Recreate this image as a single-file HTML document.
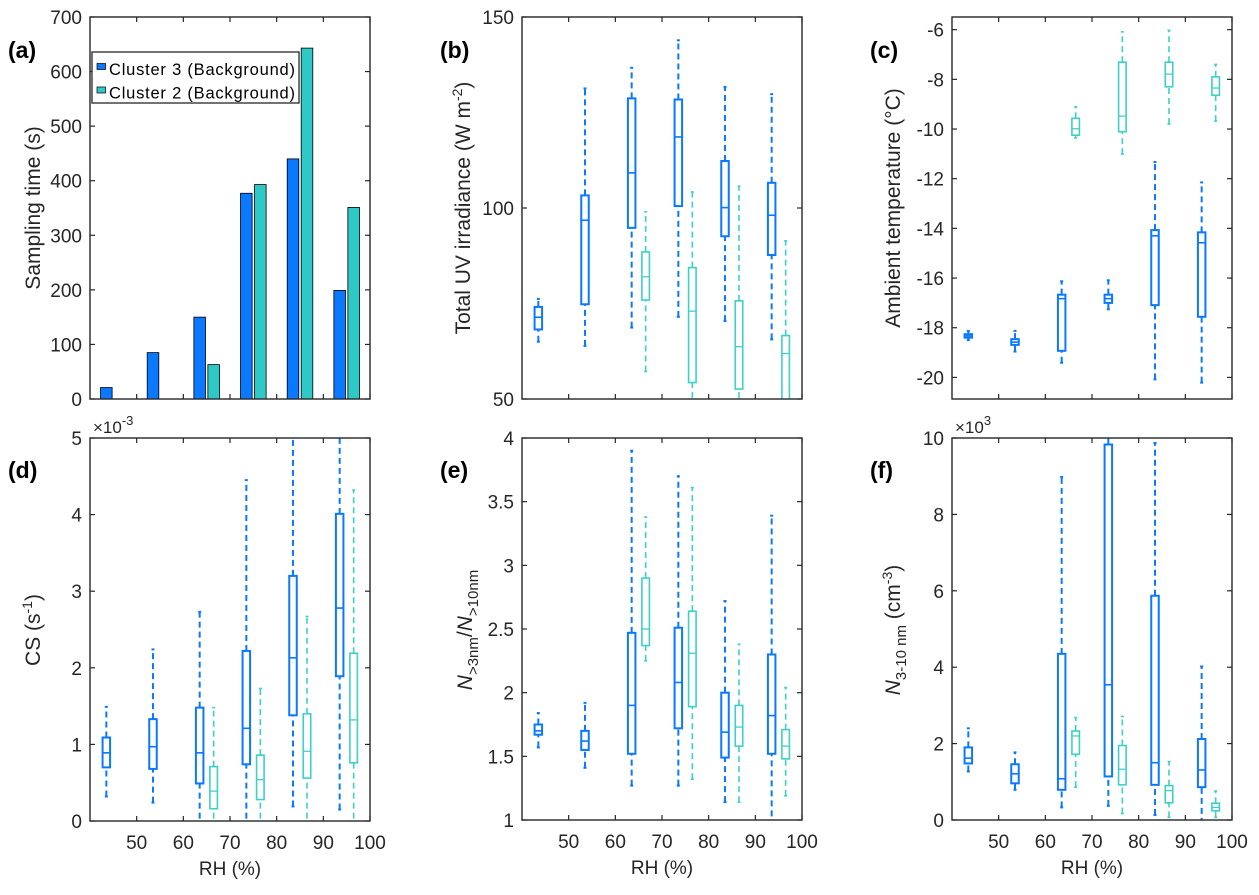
<!DOCTYPE html>
<html><head><meta charset="utf-8"><style>
html,body{margin:0;padding:0;background:#fff;}
svg{display:block;font-family:"Liberation Sans",Arial,sans-serif;}
</style></head><body>
<svg id="fig" width="1259" height="895" viewBox="0 0 1259 895" xmlns="http://www.w3.org/2000/svg"></svg>
<script>
// ---------- data ----------
const rhBlue = [43.5, 53.5, 63.5, 73.5, 83.5, 93.5];
const rhTeal = [66.5, 76.5, 86.5, 96.5];
const rhTealBars = [46.5, 56.5, 66.5, 76.5, 86.5, 96.5];
const timeBlue = [21, 85, 150, 377, 440, 199];
const timeTeal = [0, 0, 63, 393, 643, 351];
// box stats: [lo, q1, med, q3, hi]
const uvBlue = [[65,68.2,71.4,74.1,76.2],[63.9,74.8,96.8,103.3,131.3],[68.7,94.8,109.2,128.7,136.7],[71.5,100.5,118.6,128.4,143.9],[70.4,92.6,100.1,112.3,131.7],[65.6,87.7,98.1,106.6,129.8]];
const uvTeal = [[57.2,75.9,82,88.5,99],[45,54.3,73,84.4,104.2],[45,52.6,63.7,75.7,105.7],[40,45,61.9,66.6,91.4]];
const tBlue = [[-18.5,-18.4,-18.33,-18.26,-18.13],[-18.96,-18.69,-18.58,-18.46,-18.13],[-19.41,-18.93,-16.83,-16.67,-16.13],[-17.26,-17.0,-16.83,-16.67,-16.09],[-20.08,-17.09,-14.3,-14.07,-11.33],[-20.21,-17.56,-14.58,-14.16,-12.15]];
const tTeal = [[-10.36,-10.25,-9.99,-9.57,-9.11],[-11.01,-10.11,-9.48,-7.31,-6.09],[-9.8,-8.3,-7.79,-7.31,-6.03],[-9.68,-8.64,-8.35,-7.9,-7.4]];
const csBlue = [[0.32,0.70,0.89,1.09,1.49],[0.24,0.68,0.97,1.33,2.24],[-0.1,0.49,0.89,1.48,2.73],[-0.1,0.74,1.21,2.22,4.45],[0.19,1.38,2.13,3.2,5.5],[0.15,1.89,2.78,4.01,5.5]];
const csTeal = [[-0.1,0.16,0.39,0.71,1.48],[-0.1,0.28,0.54,0.86,1.73],[-0.1,0.56,0.91,1.4,2.67],[-0.1,0.76,1.32,2.19,4.32]];
const ratioBlue = [[1.57,1.67,1.70,1.75,1.84],[1.41,1.55,1.62,1.70,1.92],[1.27,1.52,1.90,2.47,3.90],[1.27,1.72,2.08,2.51,3.70],[1.14,1.49,1.69,2.0,2.72],[0.95,1.52,1.82,2.30,3.39]];
const ratioTeal = [[2.25,2.37,2.50,2.90,3.38],[1.32,1.89,2.31,2.64,3.61],[1.14,1.58,1.73,1.90,2.38],[1.19,1.48,1.58,1.71,2.04]];
const nBlue = [[1.27,1.48,1.62,1.90,2.40],[0.79,0.96,1.21,1.46,1.77],[0.33,0.79,1.08,4.35,8.98],[0.37,1.14,3.54,9.83,10.3],[0.13,0.92,1.50,5.87,9.87],[-0.1,0.86,1.31,2.12,4.02]];
const nTeal = [[0.86,1.72,2.20,2.33,2.68],[0.17,0.92,1.33,1.95,2.71],[0.07,0.45,0.77,0.90,1.53],[0.07,0.24,0.33,0.44,0.76]];
const ticksA = [0,100,200,300,400,500,600,700];
const ticksB = [50,100,150];
const ticksC = [-6,-8,-10,-12,-14,-16,-18,-20];
const ticksD = [0,1,2,3,4,5];
const ticksE = [1,1.5,2,2.5,3,3.5,4];
const ticksF = [0,2,4,6,8,10];
const ticksX = [50,60,70,80,90,100];

// ---------- drawing ----------
const NS="http://www.w3.org/2000/svg";
const svg=document.getElementById('fig');
const BLUE="#0a78ff", TEAL_BAR="#2ec9c6", TEAL="#3dd0c8", AX="#262626";
const FS=19;
function el(tag,attrs,parent){const e=document.createElementNS(NS,tag);for(const k in attrs)e.setAttribute(k,attrs[k]);(parent||svg).appendChild(e);return e;}
let clipId=0;
function makePanel(p){
  const g=el('g',{});
  
  
  const sx=v=>p.x0+(v-40)/60*(p.x1-p.x0);
  const sy=v=>p.y1-(v-p.ymin)/(p.ymax-p.ymin)*(p.y1-p.y0);
  const cid='clip'+(clipId++);
  const cp=el('clipPath',{id:cid},g);el('rect',{x:p.x0,y:p.y0,width:p.x1-p.x0,height:p.y1-p.y0},cp);
  const marks=el('g',{'clip-path':'url(#'+cid+')'},g);
  
  
  return {g,sx,sy,marks};
}
function axes(p,P,yticks,showX){
  const g=P.g;
  const frame=el('rect',{x:p.x0,y:p.y0,width:p.x1-p.x0,height:p.y1-p.y0,fill:'none',stroke:AX,'stroke-width':1.4},g);
  
  
  ticksX.forEach(v=>{const x=P.sx(v);
    el('line',{x1:x,x2:x,y1:p.y1,y2:p.y1-5,stroke:AX,'stroke-width':1.2},g);
    el('line',{x1:x,x2:x,y1:p.y0,y2:p.y0+5,stroke:AX,'stroke-width':1.2},g);
    if(showX){const t=el('text',{x:x,y:p.y1+28,'text-anchor':'middle','font-size':FS,fill:AX},g);t.textContent=v;
      
      }
  });
  yticks.forEach(v=>{const y=P.sy(v);
    el('line',{x1:p.x0,x2:p.x0+5,y1:y,y2:y,stroke:AX,'stroke-width':1.2},g);
    el('line',{x1:p.x1,x2:p.x1-5,y1:y,y2:y,stroke:AX,'stroke-width':1.2},g);
    const t=el('text',{x:p.x0-8,y:y+7,'text-anchor':'end','font-size':FS,fill:AX},g);t.textContent=v;
    
    
  });
  if(showX){const t=el('text',{x:(p.x0+p.x1)/2,y:p.y1+54,'text-anchor':'middle','font-size':FS,fill:AX},g);t.textContent='RH (%)';
    
    }
}
function panelLabel(txt,x,y){const t=el('text',{x:x,y:y,'font-size':23,'font-weight':'bold',fill:'#000'});t.textContent=txt;
  
  }
function yTitle(html,x,y){const t=el('text',{x:0,y:0,'text-anchor':'middle','font-size':21,fill:AX,transform:`translate(${x},${y}) rotate(-90)`});t.innerHTML=html;
  
  }
function boxes(P,xs,stats,color,lw,nm){
  xs.forEach((xv,i)=>{const s=stats[i];const x=P.sx(xv);const w=7.5;
    const g=el('g',{},P.marks);
    
    
    const y=s.map(P.sy);
    el('line',{x1:x,x2:x,y1:y[0],y2:y[1],stroke:color,'stroke-width':lw,'stroke-dasharray':'6,4'},g);
    el('line',{x1:x,x2:x,y1:y[3],y2:y[4],stroke:color,'stroke-width':lw,'stroke-dasharray':'6,4'},g);
    el('line',{x1:x-1.5,x2:x+1.5,y1:y[0],y2:y[0],stroke:color,'stroke-width':lw},g);
    el('line',{x1:x-1.5,x2:x+1.5,y1:y[4],y2:y[4],stroke:color,'stroke-width':lw},g);
    el('rect',{x:x-w/2,y:y[3],width:w,height:Math.max(0.5,y[1]-y[3]),fill:'none',stroke:color,'stroke-width':lw},g);
    el('line',{x1:x-w/2,x2:x+w/2,y1:y[2],y2:y[2],stroke:color,'stroke-width':lw*0.8},g);
  });
}
const pA={name:'panel-a-sampling-time',x0:90,x1:370,y0:17,y1:399,ymin:0,ymax:700};
const pB={name:'panel-b-uv',x0:522,x1:802,y0:17,y1:399,ymin:50,ymax:150};
const pC={name:'panel-c-temperature',x0:952,x1:1232,y0:17,y1:399,ymin:-20.87,ymax:-5.49};
const pD={name:'panel-d-cs',x0:90,x1:370,y0:438,y1:821,ymin:0,ymax:5};
const pE={name:'panel-e-ratio',x0:522,x1:802,y0:438,y1:820,ymin:1,ymax:4};
const pF={name:'panel-f-n3-10',x0:952,x1:1232,y0:438,y1:820,ymin:0,ymax:10};

// (a) bars
const A=makePanel(pA);
rhBlue.forEach((v,i)=>{const x=A.sx(v),y=A.sy(timeBlue[i]);const r=el('rect',{x:x-5.8,y:y,width:11.6,height:pA.y1-y,fill:BLUE,stroke:'#000','stroke-width':0.8},A.marks);
  
  });
rhTealBars.forEach((v,i)=>{if(!timeTeal[i])return;const x=A.sx(v),y=A.sy(timeTeal[i]);const r=el('rect',{x:x-5.8,y:y,width:11.6,height:pA.y1-y,fill:TEAL_BAR,stroke:'#000','stroke-width':0.8},A.marks);
  
  });
axes(pA,A,ticksA,false);
// legend
const lg=el('g',{});


el('rect',{x:92,y:52,width:207,height:51,fill:'#fff',stroke:AX,'stroke-width':1.3},lg);
el('rect',{x:97,y:63.5,width:8.5,height:6,fill:BLUE,stroke:'#000','stroke-width':0.7},lg);
el('rect',{x:97,y:87,width:8.5,height:6,fill:TEAL_BAR,stroke:'#000','stroke-width':0.7},lg);
const l1=el('text',{x:109,y:75,'font-size':16.5,fill:'#000',textLength:186},lg);l1.textContent='Cluster 3 (Background)';


const l2=el('text',{x:109,y:98.5,'font-size':16.5,fill:'#000',textLength:186},lg);l2.textContent='Cluster 2 (Background)';



const B=makePanel(pB);boxes(B,rhBlue,uvBlue,BLUE,2,'uv-cluster3');boxes(B,rhTeal,uvTeal,TEAL,1.6,'uv-cluster2');axes(pB,B,ticksB,false);
const C=makePanel(pC);boxes(C,rhBlue,tBlue,BLUE,2,'temp-cluster3');boxes(C,rhTeal,tTeal,TEAL,1.6,'temp-cluster2');axes(pC,C,ticksC,false);
const D=makePanel(pD);boxes(D,rhBlue,csBlue,BLUE,2,'cs-cluster3');boxes(D,rhTeal,csTeal,TEAL,1.6,'cs-cluster2');axes(pD,D,ticksD,true);
const E=makePanel(pE);boxes(E,rhBlue,ratioBlue,BLUE,2,'ratio-cluster3');boxes(E,rhTeal,ratioTeal,TEAL,1.6,'ratio-cluster2');axes(pE,E,ticksE,true);
const F=makePanel(pF);boxes(F,rhBlue,nBlue,BLUE,2,'n-cluster3');boxes(F,rhTeal,nTeal,TEAL,1.6,'n-cluster2');axes(pF,F,ticksF,true);

[[93,433,'-3'],[955,433,'3']].forEach(e=>{const t=el('text',{x:e[0],y:e[1],'font-size':17,fill:AX});t.innerHTML='×10<tspan dy="-8" font-size="13">'+e[2]+'</tspan>';
  
  });

panelLabel('(a)',8,58);panelLabel('(b)',440,58);panelLabel('(c)',870,58);
panelLabel('(d)',8,478);panelLabel('(e)',440,478);panelLabel('(f)',870,478);

yTitle('Sampling time (s)',40,208);
yTitle('Total UV irradiance (W m<tspan dy="-8" font-size="14">-2</tspan><tspan dy="8">)</tspan>',470,208);
yTitle('Ambient temperature (°C)',900,208);
yTitle('CS (s<tspan dy="-8" font-size="14">-1</tspan><tspan dy="8">)</tspan>',40,630);
yTitle('<tspan font-style="italic">N</tspan><tspan dy="6" font-size="15">&gt;3nm</tspan><tspan dy="-6">/</tspan><tspan font-style="italic">N</tspan><tspan dy="6" font-size="15">&gt;10nm</tspan>',472,630);
yTitle('<tspan font-style="italic">N</tspan><tspan dy="6" font-size="15">3-10 nm</tspan><tspan dy="-6"> (cm</tspan><tspan dy="-8" font-size="14">-3</tspan><tspan dy="8">)</tspan>',900,630);
</script>
</body></html>
